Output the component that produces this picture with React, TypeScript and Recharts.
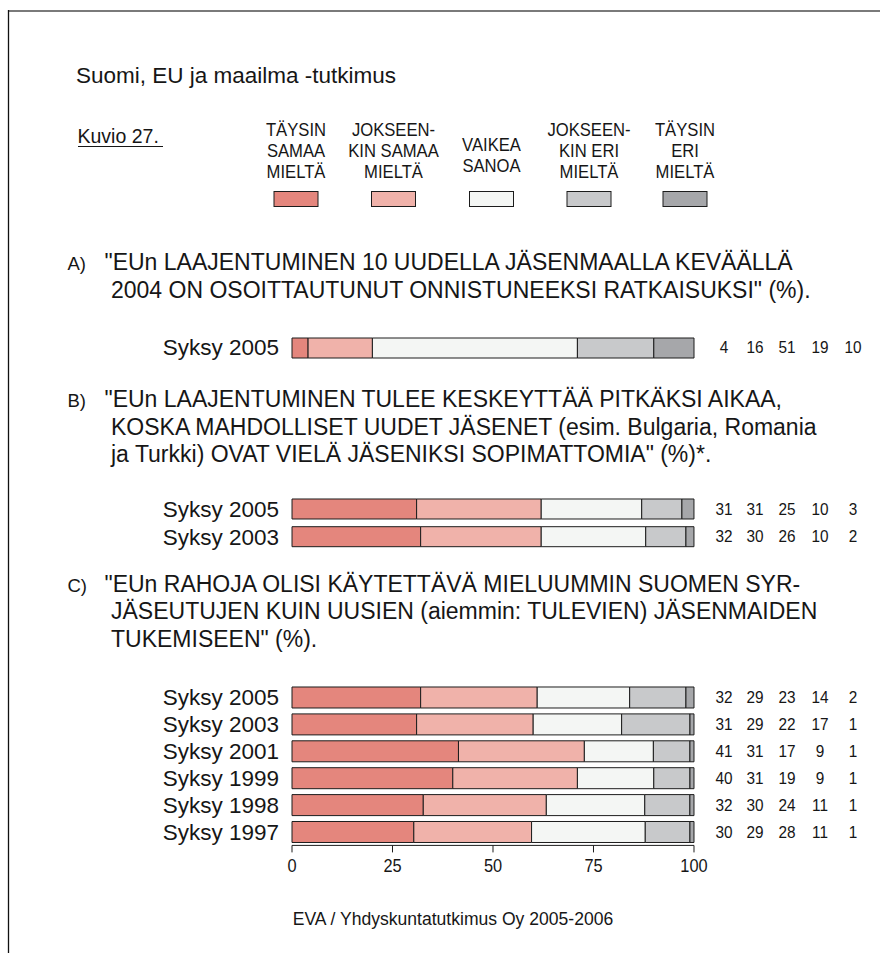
import React from 'react';
import { BarChart, Bar, XAxis, YAxis } from 'recharts';

// ---------- data ----------
const legendLines: string[][] = [
  ['TÄYSIN', 'SAMAA', 'MIELTÄ'],
  ['JOKSEEN-', 'KIN SAMAA', 'MIELTÄ'],
  ['VAIKEA', 'SANOA'],
  ['JOKSEEN-', 'KIN ERI', 'MIELTÄ'],
  ['TÄYSIN', 'ERI', 'MIELTÄ'],
];
const seriesKeys = ['s1', 's2', 's3', 's4', 's5'];
const seriesColors = ['#E4867D', '#F0B2AA', '#F4F6F4', '#C8C9CB', '#A6A7AA'];

const rowsA = ['Syksy 2005'];
const valuesA = [[4, 16, 51, 19, 10]];

const rowsB = ['Syksy 2005', 'Syksy 2003'];
const valuesB = [
  [31, 31, 25, 10, 3],
  [32, 30, 26, 10, 2],
];

const rowsC = ['Syksy 2005', 'Syksy 2003', 'Syksy 2001', 'Syksy 1999', 'Syksy 1998', 'Syksy 1997'];
const valuesC = [
  [32, 29, 23, 14, 2],
  [31, 29, 22, 17, 1],
  [41, 31, 17, 9, 1],
  [40, 31, 19, 9, 1],
  [32, 30, 24, 11, 1],
  [30, 29, 28, 11, 1],
];

const xTicks = [0, 25, 50, 75, 100];

const title = 'Suomi, EU ja maailma -tutkimus';
const figureLabel = 'Kuvio 27.';
const headingA = [
  '"EUn LAAJENTUMINEN 10 UUDELLA JÄSENMAALLA KEVÄÄLLÄ',
  '2004 ON OSOITTAUTUNUT ONNISTUNEEKSI RATKAISUKSI" (%).',
];
const headingB = [
  '"EUn LAAJENTUMINEN TULEE KESKEYTTÄÄ PITKÄKSI AIKAA,',
  'KOSKA MAHDOLLISET UUDET JÄSENET (esim. Bulgaria, Romania',
  'ja Turkki) OVAT VIELÄ JÄSENIKSI SOPIMATTOMIA" (%)*.',
];
const headingC = [
  '"EUn RAHOJA OLISI KÄYTETTÄVÄ MIELUUMMIN SUOMEN SYR-',
  'JÄSEUTUJEN KUIN UUSIEN (aiemmin: TULEVIEN) JÄSENMAIDEN',
  'TUKEMISEEN" (%).',
];
const footer = 'EVA / Yhdyskuntatutkimus Oy 2005-2006';

// ---------- layout ----------
const FONT = '"Liberation Sans", Arial, Helvetica, sans-serif';
const TEXT = '#161616';
const STROKE = '#1c1c1c';
const PLOT_LEFT = 292;
const PLOT_RIGHT = 694;
const W = 880;
const valueOffsets = [30, 61, 93, 126, 159];
const legendCenters = [296, 393.5, 491.5, 589, 685];

const ValueTick = (props: any) => {
  const { x, y, payload, values } = props;
  const row: number[] = values[payload.index] || [];
  return (
    <g>
      {row.map((v, j) => (
        <text
          key={j}
          transform={`translate(${x + valueOffsets[j]},${y}) scale(0.93,1)`}
          dy="0.355em"
          textAnchor="middle"
          fontSize={16.5}
          fontFamily={FONT}
          fill={TEXT}
        >
          {v}
        </text>
      ))}
    </g>
  );
};

const XTick = (props: any) => {
  const { x, y, payload } = props;
  return (
    <text
      transform={`translate(${x},${y}) scale(0.88,1)`}
      dy="0.72em"
      textAnchor="middle"
      fontSize={18.6}
      fontFamily={FONT}
      fill={TEXT}
    >
      {String(Math.round(payload.value * 100))}
    </text>
  );
};

function StackChart(props: {
  rows: string[];
  values: number[][];
  plotTop: number;
  band: number;
  barSize: number;
  showAxis: boolean;
}) {
  const { rows, values, plotTop, band, barSize, showAxis } = props;
  const data = rows.map((name, i) => {
    const o: any = { name };
    seriesKeys.forEach((k, j) => {
      o[k] = values[i][j];
    });
    return o;
  });
  const marginTop = 10;
  const plotH = band * rows.length;
  const axisH = showAxis ? 40 : 0;
  const height = marginTop + plotH + axisH + 4;
  return (
    <div style={{ position: 'absolute', left: 0, top: plotTop - marginTop }}>
      <BarChart
        width={W}
        height={height}
        data={data}
        layout="vertical"
        stackOffset="expand"
        barSize={barSize}
        margin={{ top: marginTop, right: 0, bottom: 4, left: 0 }}
      >
        <XAxis
          type="number"
          domain={[0, 1]}
          ticks={xTicks.map((t) => t / 100)}
          hide={!showAxis}
          height={axisH}
          tickSize={7}
          tickMargin={6}
          interval={0}
          axisLine={{ stroke: STROKE, strokeWidth: 1 }}
          tickLine={{ stroke: STROKE, strokeWidth: 1 }}
          tick={<XTick />}
        />
        <YAxis
          yAxisId="left"
          type="category"
          dataKey="name"
          width={PLOT_LEFT}
          axisLine={false}
          tickLine={false}
          tickSize={0}
          tickMargin={13}
          interval={0}
          tick={{ fontSize: 22.5, fill: TEXT, fontFamily: FONT }}
        />
        <YAxis
          yAxisId="right"
          orientation="right"
          type="category"
          dataKey="name"
          width={W - PLOT_RIGHT}
          axisLine={false}
          tickLine={false}
          tickSize={0}
          tickMargin={0}
          interval={0}
          tick={<ValueTick values={values} />}
        />
        {seriesKeys.map((k, j) => (
          <Bar
            key={k}
            yAxisId="left"
            dataKey={k}
            stackId="a"
            fill={seriesColors[j]}
            stroke={STROKE}
            strokeWidth={1}
            isAnimationActive={false}
          />
        ))}
      </BarChart>
    </div>
  );
}

function Heading({ letter, lines, y0 }: { letter: string; lines: string[]; y0: number }) {
  return (
    <g fontFamily={FONT} fill={TEXT}>
      <text x={67.5} y={y0} fontSize={18.5}>
        {letter}
      </text>
      {lines.map((l, i) => (
        <text key={i} x={i === 0 ? 104.5 : 111} y={y0 + i * 27.5} fontSize={23}>
          {l}
        </text>
      ))}
    </g>
  );
}

export default function App() {
  return (
    <div
      style={{
        position: 'absolute',
        left: 0,
        top: 0,
        width: W,
        height: 953,
        background: '#fff',
        overflow: 'hidden',
      }}
    >
      <svg width={W} height={953} style={{ position: 'absolute', left: 0, top: 0 }}>
        <line x1={8} y1={11} x2={W} y2={11} stroke="#7a7a7a" strokeWidth={2} />
        <line x1={8.5} y1={10} x2={8.5} y2={953} stroke="#111" strokeWidth={1.3} />

        <text x={76} y={82.5} fontSize={22.5} fontFamily={FONT} fill={TEXT}>
          {title}
        </text>

        <text x={77.5} y={143} fontSize={19.5} fontFamily={FONT} fill={TEXT}>
          {figureLabel}
        </text>
        <line x1={78} y1={146.5} x2={163} y2={146.5} stroke={TEXT} strokeWidth={1} />

        {legendLines.map((lines, i) => {
          const ys = lines.length === 3 ? [136, 157, 178] : [150.5, 171.5];
          return (
            <g key={i}>
              {lines.map((l, j) => (
                <text
                  key={j}
                  transform={`translate(${legendCenters[i]},${ys[j]}) scale(0.9,1)`}
                  textAnchor="middle"
                  fontSize={18.5}
                  fontFamily={FONT}
                  fill={TEXT}
                >
                  {l}
                </text>
              ))}
              <rect
                x={legendCenters[i] - 22}
                y={191.5}
                width={44}
                height={15}
                fill={seriesColors[i]}
                stroke={STROKE}
                strokeWidth={1}
              />
            </g>
          );
        })}

        <Heading letter="A)" lines={headingA} y0={270} />
        <Heading letter="B)" lines={headingB} y0={407} />
        <Heading letter="C)" lines={headingC} y0={591.5} />

        <text
          transform="translate(453,925) scale(0.95,1)"
          textAnchor="middle"
          fontSize={18.5}
          fontFamily={FONT}
          fill={TEXT}
        >
          {footer}
        </text>
      </svg>

      <StackChart rows={rowsA} values={valuesA} plotTop={333.5} band={27} barSize={20} showAxis={false} />
      <StackChart rows={rowsB} values={valuesB} plotTop={494.5} band={27.7} barSize={20} showAxis={false} />
      <StackChart rows={rowsC} values={valuesC} plotTop={684.4} band={26.9} barSize={21} showAxis={true} />
    </div>
  );
}
